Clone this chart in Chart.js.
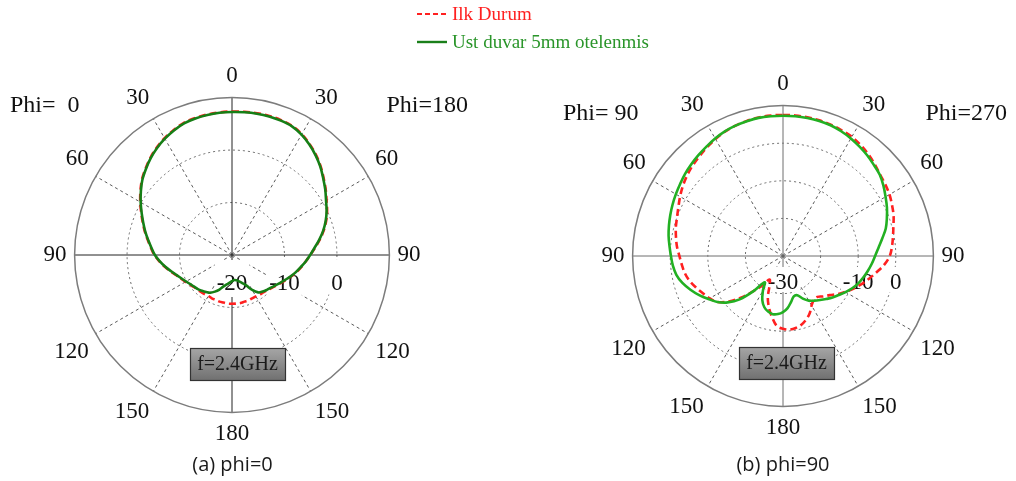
<!DOCTYPE html>
<html>
<head>
<meta charset="utf-8">
<script src="https://cdn.jsdelivr.net/npm/chart.js@4.4.1/dist/chart.umd.min.js"></script>
<style>
  html, body { margin: 0; padding: 0; background: #fff; }
  body { width: 1016px; height: 481px; position: relative; overflow: hidden; }
  #cLeft { position: absolute; left: 0; top: 0; }
  #cRight { position: absolute; left: 550px; top: 0; }
  .lg { position: absolute; font-family: "Liberation Serif", serif; font-size: 19px; line-height: 20px; white-space: nowrap; z-index: 2; }
</style>
</head>
<body>
<canvas id="cLeft" width="470" height="481"></canvas>
<canvas id="cRight" width="466" height="481"></canvas>

<svg class="lg" style="left:415px;top:11px" width="34" height="6"><line x1="2" y1="3" x2="32" y2="3" stroke="#ff2020" stroke-width="2" stroke-dasharray="5,3"/></svg>
<div class="lg" style="left:452px;top:4px;color:#ff2020">Ilk Durum</div>
<svg class="lg" style="left:415px;top:39px" width="34" height="6"><line x1="2" y1="3" x2="32" y2="3" stroke="#1a7f1a" stroke-width="2.4"/></svg>
<div class="lg" style="left:452px;top:32px;color:#2a952a">Ust duvar 5mm otelenmis</div>

<script>
// Elevation angle (deg, clockwise from the top of each polar plot)
const ANGLES = [0, 5, 10, 15, 20, 25, 30, 35, 40, 45, 50, 55, 60, 65, 70, 75, 80, 85,
  90, 95, 100, 105, 110, 115, 120, 125, 130, 135, 140, 145, 150, 155, 160, 165, 170, 175,
  180, 185, 190, 195, 200, 205, 210, 215, 220, 225, 230, 235, 240, 245, 250, 255, 260, 265,
  270, 275, 280, 285, 290, 295, 300, 305, 310, 315, 320, 325, 330, 335, 340, 345, 350, 355];

const SERIES_NAMES = ['Ilk Durum', 'Ust duvar 5mm otelenmis'];

// Gain (dB), phi = 0 / 180 cut
const PHI0_ILK = [7.35, 7.4, 7.45, 7.45, 7.35, 7.15, 6.6, 5.8, 4.9, 3.9, 2.8, 1.8, 0.8, 0.0, -0.9, -1.9, -3.0, -4.1,
  -5.1, -5.9, -6.6, -7.3, -8.0, -8.7, -9.3, -9.8, -10.2, -10.5, -10.7, -10.8, -10.9, -10.9, -10.8, -10.8, -10.7, -10.7,
  -10.7, -10.7, -10.8, -10.8, -10.9, -10.9, -11.0, -10.9, -10.8, -10.7, -10.5, -10.2, -9.8, -9.3, -8.7, -7.9, -7.0, -6.1,
  -5.2, -4.5, -3.7, -2.8, -1.9, -0.9, 0.2, 1.3, 2.4, 3.3, 4.2, 5.0, 5.7, 6.3, 6.8, 7.05, 7.2, 7.3];
const PHI0_UST = [7.25, 7.3, 7.35, 7.35, 7.25, 7.05, 6.5, 5.7, 4.8, 3.8, 2.7, 1.7, 0.7, -0.1, -1.0, -2.0, -3.1, -4.2,
  -5.1, -5.9, -6.7, -7.4, -8.1, -8.8, -9.4, -9.9, -10.3, -10.6, -10.9, -11.3, -12.3, -13.6, -14.3, -14.8, -15.1, -15.2,
  -15.0, -14.7, -14.3, -13.8, -13.0, -12.3, -11.7, -11.4, -11.1, -10.8, -10.6, -10.3, -9.9, -9.4, -8.8, -8.0, -7.1, -6.2,
  -5.3, -4.6, -3.8, -2.9, -2.0, -1.0, 0.1, 1.2, 2.3, 3.2, 4.1, 4.9, 5.6, 6.2, 6.7, 6.95, 7.1, 7.2];

// Gain (dB), phi = 90 / 270 cut
const PHI90_ILK = [7.5, 7.5, 7.45, 7.35, 7.15, 6.9, 6.6, 6.0, 5.3, 4.5, 3.7, 3.2, 2.7, 2.0, 1.3, 0.4, -0.3, -0.9,
  -1.6, -3.0, -4.8, -6.4, -7.9, -9.4, -10.9, -12.3, -13.8, -14.8, -15.8, -15.7, -14.8, -13.2, -12.0, -11.1, -10.55, -10.35,
  -10.65, -11.3, -13.4, -15.7, -18.2, -21.6, -22.8, -20.4, -17.9, -14.4, -11.2, -8.7, -7.5, -6.5, -5.4, -4.3, -3.5, -3.0,
  -2.45, -1.7, -1.1, -0.5, 0.0, 0.7, 1.6, 2.5, 3.3, 4.0, 4.6, 5.3, 5.9, 6.5, 6.9, 7.2, 7.4, 7.5];
const PHI90_UST = [7.3, 7.3, 7.25, 7.2, 7.0, 6.6, 6.1, 5.5, 4.9, 4.2, 3.6, 2.6, 1.5, 0.5, -0.6, -1.7, -3.2, -4.5,
  -5.5, -6.3, -7.1, -7.9, -8.7, -9.7, -10.8, -11.9, -12.8, -13.8, -14.7, -15.5, -16.3, -17.5, -18.9, -18.9, -17.6, -16.1,
  -15.1, -14.5, -14.3, -14.7, -15.5, -17.0, -19.3, -21.5, -17.8, -13.7, -10.8, -8.7, -7.1, -5.4, -3.8, -2.3, -1.2, -0.6,
  -0.2, 0.3, 0.9, 1.4, 1.9, 2.4, 2.9, 3.4, 4.0, 4.5, 5.0, 5.5, 6.1, 6.6, 6.9, 7.1, 7.3, 7.3];

// Radial tick labels written along the horizontal axis
const PHI0_TICKS = [-20, -10, 0];
const PHI90_TICKS = [-30, -10, 0];

const SERIF = '"Liberation Serif", "Times New Roman", serif';

// Extra decoration: outer ring, dB labels, Phi captions and the frequency tag
const polarDecor = {
  id: 'polarDecor',
  beforeDatasetsDraw(chart, args, o) {
    const s = chart.scales.r, ctx = chart.ctx;
    const xc = s.xCenter, yc = s.yCenter;
    ctx.save();
    ctx.strokeStyle = '#7c7c7c';
    ctx.lineWidth = 1.5;
    ctx.beginPath();
    ctx.arc(xc, yc, s.getDistanceFromCenterForValue(s.max), 0, Math.PI * 2);
    ctx.stroke();

    ctx.font = '23px ' + SERIF;
    ctx.textAlign = 'center';
    ctx.textBaseline = 'alphabetic';
    o.ticks.forEach(v => {
      const txt = String(v);
      const x = xc + s.getDistanceFromCenterForValue(v);
      const y = yc + o.tickDrop;
      const w = ctx.measureText(txt).width;
      ctx.fillStyle = '#ffffff';
      ctx.fillRect(x - w / 2 - 2, y - o.backTop, w + 4, o.backTop + o.backBottom);
      ctx.fillStyle = '#111111';
      ctx.fillText(txt, x, y);
    });
    ctx.restore();
  },
  afterDatasetsDraw(chart, args, o) {
    const s = chart.scales.r, ctx = chart.ctx;
    ctx.save();
    // Phi captions
    ctx.font = '24px ' + SERIF;
    ctx.fillStyle = '#111111';
    ctx.textBaseline = 'alphabetic';
    o.phi.forEach(p => {
      ctx.textAlign = p.align;
      ctx.fillText(p.text, p.x, p.y);
    });
    // frequency tag
    const bx = s.xCenter + o.box.dx, by = s.yCenter + o.box.dy, bw = 95, bh = 32;
    const g = ctx.createLinearGradient(0, by, 0, by + bh);
    g.addColorStop(0, '#a6a6a6');
    g.addColorStop(1, '#717171');
    ctx.fillStyle = g;
    ctx.fillRect(bx, by, bw, bh);
    ctx.strokeStyle = '#333333';
    ctx.lineWidth = 1.2;
    ctx.strokeRect(bx + 0.5, by + 0.5, bw, bh);
    ctx.fillStyle = '#1a1a1a';
    ctx.font = '20px ' + SERIF;
    ctx.textAlign = 'center';
    ctx.textBaseline = 'middle';
    ctx.fillText('f=2.4GHz', bx + bw / 2, by + bh / 2 + 1);
    ctx.restore();
  }
};

function makePolar(id, ilk, ust, minDb, green, cfg) {
  return new Chart(document.getElementById(id), {
    type: 'radar',
    data: {
      labels: ANGLES,
      datasets: [
        { label: SERIES_NAMES[0], data: ilk, borderColor: '#ff2020', borderWidth: 2.6,
          borderDash: [7, 4], pointRadius: 0, fill: false, tension: 0.35, order: 1 },
        { label: SERIES_NAMES[1], data: ust, borderColor: green, borderWidth: 2.6,
          pointRadius: 0, fill: false, tension: 0.35, order: 0 }
      ]
    },
    options: {
      responsive: false,
      animation: false,
      devicePixelRatio: 1,
      layout: { padding: cfg.padding },
      plugins: {
        legend: { display: false },
        tooltip: { enabled: false },
        title: {
          display: true, position: 'bottom', text: cfg.caption, color: '#1a1a1a',
          font: { family: '"Open Sans", sans-serif', size: 20, weight: 'normal' },
          padding: cfg.titlePad
        },
        polarDecor: cfg.decor
      },
      scales: {
        r: {
          min: minDb, max: 10,
          ticks: { display: false, stepSize: 10 },
          grid: {
            circular: true, lineWidth: 1,
            color: c => (c.tick && (c.tick.value === 10 || c.tick.value === minDb)) ? 'rgba(0,0,0,0)' : '#6a6a6a'
          },
          border: { dash: [2, 3] },
          angleLines: {
            color: c => {
              const a = ANGLES[c.index];
              return a % 90 === 0 ? cfg.axisColor : (a % 30 === 0 ? '#5a5a5a' : 'rgba(0,0,0,0)');
            },
            lineWidth: c => (ANGLES[c.index] % 30 === 0 ? 1 : 0),
            borderDash: c => (ANGLES[c.index] % 90 === 0 ? [] : [3, 3])
          },
          pointLabels: {
            padding: 8, color: '#111111',
            font: { family: SERIF, size: 23 },
            callback: (a) => (a % 30 === 0 ? String(a <= 180 ? a : 360 - a) : '')
          }
        }
      }
    },
    plugins: [polarDecor]
  });
}

makePolar('cLeft', PHI0_ILK, PHI0_UST, -20, '#167f16', {
  caption: '(a) phi=0',
  axisColor: '#222222',
  padding: { top: 62, bottom: 0, left: 0, right: 5 },
  titlePad: { top: 4, bottom: 4 },
  decor: {
    ticks: PHI0_TICKS, tickDrop: 35, backTop: 30, backBottom: 7,
    box: { dx: -42, dy: 93 },
    phi: [ { text: 'Phi=  0', x: 10, y: 112, align: 'left' },
           { text: 'Phi=180', x: 468, y: 112, align: 'right' } ]
  }
});

makePolar('cRight', PHI90_ILK, PHI90_UST, -30, '#22b022', {
  caption: '(b) phi=90',
  axisColor: '#6e6e6e',
  padding: { top: 71, bottom: 0, left: 0, right: 0 },
  titlePad: { top: 10, bottom: 4 },
  decor: {
    ticks: PHI90_TICKS, tickDrop: 33, backTop: 22, backBottom: 3,
    box: { dx: -44, dy: 91 },
    phi: [ { text: 'Phi= 90', x: 13, y: 120, align: 'left' },
           { text: 'Phi=270', x: 457, y: 120, align: 'right' } ]
  }
});
</script>
</body>
</html>
